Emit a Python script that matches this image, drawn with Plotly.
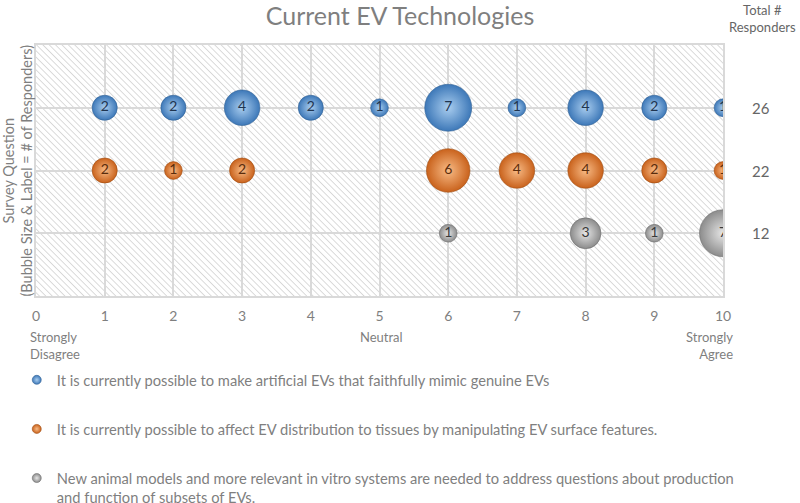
import base64
import plotly.graph_objects as go

# ---------------- data ----------------
scale_ticks = [0, 1, 2, 3, 4, 5, 6, 7, 8, 9, 10]
question_names = [
    "It is currently possible to make artificial EVs that faithfully mimic genuine EVs",
    "It is currently possible to affect EV distribution to tissues by manipulating EV surface features.",
    "New animal models and more relevant in vitro systems are needed to address questions about production<br>and function of subsets of EVs.",
]
question_rows = [3, 2, 1]

q1_scores = [1, 2, 3, 4, 5, 6, 7, 8, 9, 10]
q1_counts = [2, 2, 4, 2, 1, 7, 1, 4, 2, 1]

q2_scores = [1, 2, 3, 6, 7, 8, 9, 10]
q2_counts = [2, 1, 2, 6, 4, 4, 2, 1]

q3_scores = [6, 8, 9, 10]
q3_counts = [1, 3, 1, 7]

totals = [26, 22, 12]

anchor_labels = {0: "Strongly<br>Disagree", 5: "Neutral", 10: "Strongly<br>Agree"}

# ---------------- style ----------------
FONT = "Lato"
GREY = "#7f7f7f"
edge_colors = ["#3d78b8", "#c9621c", "#8c8c8c"]
center_colors = ["#a9cdef", "#f8bb86", "#e6e6e6"]
line_colors = ["#2f5f93", "#a04d12", "#6f6f6f"]
text_colors = ["#1f3550", "#5a2c0c", "#3a3a3a"]

series = [(q1_scores, q1_counts), (q2_scores, q2_counts), (q3_scores, q3_counts)]
max_count = max(max(c) for _, c in series)
sizeref = 2.0 * max_count / 47 ** 2

fig = go.Figure()
for i, (xs, cs) in enumerate(series):
    fig.add_trace(go.Scatter(
        x=xs, y=[question_rows[i]] * len(xs),
        mode="markers+text",
        text=[str(c) for c in cs],
        textposition="middle center",
        textfont=dict(family=FONT, size=14, color=text_colors[i]),
        marker=dict(size=cs, sizemode="area", sizeref=sizeref,
                    color=edge_colors[i],
                    gradient=dict(type="radial", color=center_colors[i]),
                    line=dict(color=line_colors[i], width=0.6),
                    opacity=1),
        showlegend=False, hoverinfo="x+text",
    ))

# legend-only entries
for i, name in enumerate(question_names):
    fig.add_trace(go.Scatter(
        x=[None], y=[None], mode="markers", name=name,
        legendgroup=f"g{i}",
        marker=dict(size=9, color=edge_colors[i],
                    gradient=dict(type="radial", color=center_colors[i]),
                    line=dict(color=line_colors[i], width=0.6)),
    ))

# hatched background (decorative)
svg = ("<svg xmlns='http://www.w3.org/2000/svg' width='687' height='251'>"
       "<defs><pattern id='p' width='4.5' height='4.5' patternUnits='userSpaceOnUse' "
       "patternTransform='rotate(-45)'><line x1='0' y1='0' x2='0' y2='4.5' "
       "stroke='#cfcfcf' stroke-width='1.5'/></pattern></defs>"
       "<rect width='100%' height='100%' fill='white'/>"
       "<rect width='100%' height='100%' fill='url(#p)'/></svg>")
src = "data:image/svg+xml;base64," + base64.b64encode(svg.encode()).decode()

annotations = []
for row, tot in zip(question_rows, totals):
    annotations.append(dict(x=1.055, xref="paper", y=row, yref="y", text=str(tot),
                            showarrow=False, xanchor="center", yanchor="middle",
                            font=dict(family=FONT, size=15, color="#666666")))
annotations.append(dict(x=1.058, xref="paper", y=1.105, yref="paper",
                        text="Total #<br>Responders", showarrow=False,
                        xanchor="center", yanchor="middle",
                        font=dict(family=FONT, size=13, color="#666666")))
for xv, lab in anchor_labels.items():
    xa = {0: "left", 5: "center", 10: "right"}[xv]
    xs = {0: -8, 5: 2, 10: 12}[xv]
    annotations.append(dict(x=xv, xref="x", y=-0.122, yref="paper", text=lab,
                            showarrow=False, xanchor=xa, yanchor="top", align=xa,
                            xshift=xs,
                            font=dict(family=FONT, size=13, color=GREY)))
annotations.append(dict(x=0, xref="paper", y=0.5, yref="paper",
                        text="Survey Question<br>(Bubble Size & Label = # of Responders)",
                        textangle=-90, showarrow=False, xanchor="right",
                        yanchor="middle", align="center", xshift=1,
                        font=dict(family=FONT, size=14.5, color=GREY)))

fig.update_layout(
    width=800, height=503,
    margin=dict(l=36, r=77, t=45, b=207, autoexpand=False),
    paper_bgcolor="white", plot_bgcolor="rgba(0,0,0,0)",
    title=dict(text="Current EV Technologies", x=0.5, xanchor="center",
               y=0.968, yanchor="middle", yref="container",
               font=dict(family=FONT, size=25, color=GREY)),
    font=dict(family=FONT, color=GREY),
    xaxis=dict(range=[0, 10], tickvals=scale_ticks,
               ticktext=[str(t) for t in scale_ticks],
               showgrid=True, gridcolor="#d9d9d9", gridwidth=1.5,
               zeroline=False, showline=True, linecolor="#d9d9d9", linewidth=1.5,
               mirror=True, ticks="", ticklabelstandoff=6,
               tickfont=dict(family=FONT, size=14, color=GREY)),
    yaxis=dict(range=[0, 4], tickvals=[0, 1, 2, 3, 4], showticklabels=False,
               showgrid=True, gridcolor="#d9d9d9", gridwidth=1.5,
               zeroline=False, showline=True, linecolor="#d9d9d9", linewidth=1.5,
               mirror=True, ticks=""),
    legend=dict(x=-0.028, y=-0.27, xanchor="left", yanchor="top",
                orientation="v", tracegroupgap=27, valign="top",
                font=dict(family=FONT, size=14.7, color=GREY),
                bgcolor="rgba(0,0,0,0)"),
    images=[dict(source=src, xref="paper", yref="paper", x=0, y=1,
                 sizex=1, sizey=1, sizing="stretch", xanchor="left",
                 yanchor="top", layer="below")],
    annotations=annotations,
)

fig.write_html("out.html", config={"displayModeBar": False},
               post_script="document.body.style.margin='0';document.body.style.overflow='hidden';")
